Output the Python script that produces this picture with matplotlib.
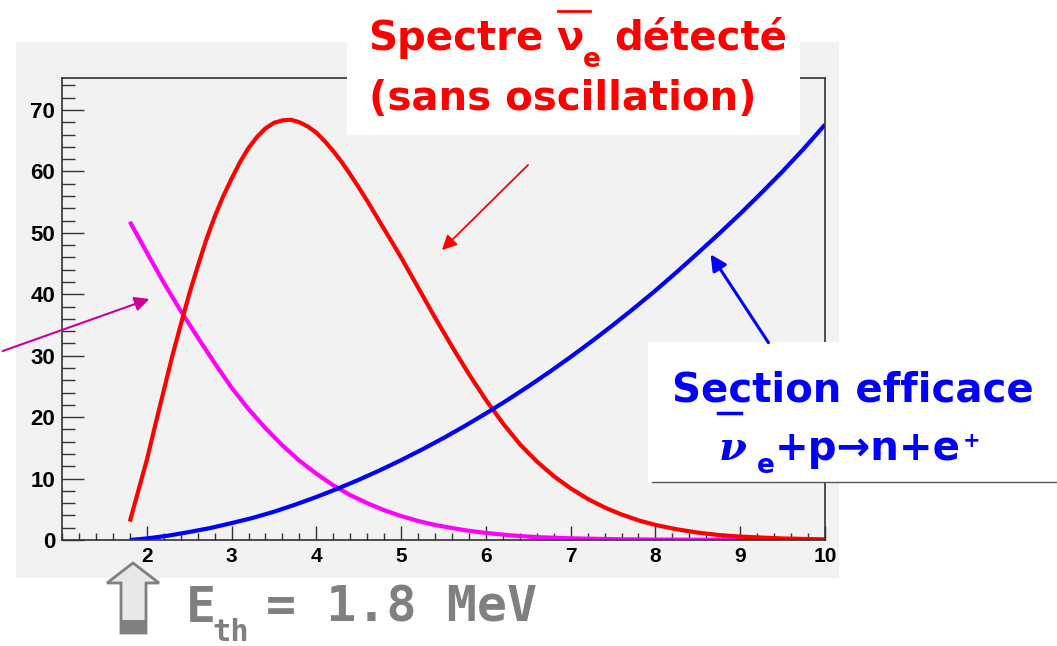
import matplotlib
matplotlib.use("Agg")

import matplotlib.pyplot as plt
from matplotlib.patches import Rectangle, Polygon
from matplotlib.ticker import MultipleLocator
import numpy as np

# spectre detecte (rouge)
E_spec = [1.8, 1.9, 2.0, 2.1, 2.2, 2.3, 2.4, 2.5, 2.6, 2.7, 2.8, 2.9, 3.0, 3.1, 3.2,
          3.3, 3.4, 3.5, 3.6, 3.7, 3.8, 3.9, 4.0, 4.1, 4.2, 4.3, 4.4, 4.5, 4.6, 4.7,
          4.8, 4.9, 5.0, 5.2, 5.4, 5.6, 5.8, 6.0, 6.2, 6.4, 6.6, 6.8, 7.0, 7.2, 7.4,
          7.6, 7.8, 8.0, 8.25, 8.5, 8.75, 9.0, 9.5, 10.0]
spec = [3.0, 8.0, 13.0, 18.7, 24.3, 29.9, 35.0, 40.0, 44.5, 48.8, 52.6, 55.9, 58.8, 61.5, 63.8,
        65.6, 67.0, 67.9, 68.3, 68.4, 68.0, 67.3, 66.3, 64.9, 63.3, 61.5, 59.5, 57.4, 55.2, 52.9,
        50.6, 48.3, 46.0, 41.1, 36.2, 31.5, 27.0, 22.8, 19.0, 15.6, 12.8, 10.4, 8.4, 6.7, 5.3,
        4.15, 3.2, 2.45, 1.75, 1.2, 0.8, 0.55, 0.25, 0.1]

# flux (magenta)
E_flux = [1.8, 2.0, 2.2, 2.4, 2.6, 2.8, 3.0, 3.2, 3.4, 3.6, 3.8, 4.0, 4.2, 4.4, 4.6,
          4.8, 5.0, 5.2, 5.4, 5.6, 5.8, 6.0, 6.3, 6.6, 7.0, 7.5, 8.0, 9.0, 10.0]
flux = [51.8, 46.8, 41.9, 37.3, 33.0, 28.8, 24.8, 21.3, 18.2, 15.4, 12.9, 10.8, 8.9, 7.3, 6.0,
        4.85, 3.9, 3.1, 2.45, 1.95, 1.5, 1.15, 0.75, 0.47, 0.27, 0.14, 0.07, 0.02, 0.01]

# section efficace (bleu)
E_xs = [1.8, 2.0, 2.25, 2.5, 2.75, 3.0, 3.25, 3.5, 3.75, 4.0, 4.25, 4.5, 4.75, 5.0, 5.25,
        5.5, 5.75, 6.0, 6.25, 6.5, 6.75, 7.0, 7.25, 7.5, 7.75, 8.0, 8.25, 8.5, 8.75,
        9.0, 9.25, 9.5, 9.75, 10.0]
xs = [0.0, 0.25, 0.7, 1.3, 1.95, 2.75, 3.6, 4.6, 5.75, 7.0, 8.35, 9.8, 11.35, 13.0, 14.75,
      16.6, 18.55, 20.6, 22.75, 25.0, 27.35, 29.8, 32.35, 35.0, 37.75, 40.6, 43.6, 46.7, 49.85,
      53.1, 56.5, 60.0, 63.7, 67.6]

W, H = 1057, 646
fig = plt.figure(figsize=(W / 100, H / 100), dpi=100)
fig.patch.set_facecolor("white")

# background panel (pixel coords)
bg = fig.add_axes([0, 0, 1, 1], zorder=0)
bg.set_xlim(0, W)
bg.set_ylim(H, 0)
bg.axis("off")
bg.add_patch(Rectangle((16, 42), 823, 536, facecolor="#f2f2f2", edgecolor="none"))

# main plot
x0, x1, y0, y1 = 62, 825, 78, 540
ax = fig.add_axes([x0 / W, (H - y1) / H, (x1 - x0) / W, (y1 - y0) / H], zorder=1)
ax.set_facecolor("none")
ax.plot(E_flux, flux, color="#ff00ff", lw=3, solid_capstyle="butt", solid_joinstyle="round")
ax.plot(E_spec, spec, color="#ff0000", lw=3, solid_capstyle="butt", solid_joinstyle="round")
ax.plot(E_xs, xs, color="#0000ff", lw=3, solid_capstyle="butt", solid_joinstyle="round")
ax.set_xlim(1, 10)
ax.set_ylim(0, 75.2)
ax.set_xticks(np.arange(2, 11, 1))
ax.xaxis.set_minor_locator(MultipleLocator(0.2))
ax.set_yticks(np.arange(0, 71, 10))
ax.yaxis.set_minor_locator(MultipleLocator(2))
for s in ax.spines.values():
    s.set_color("#333333")
    s.set_linewidth(1.2)
ax.tick_params(axis="both", which="both", direction="in", color="#333333", width=1.0,
               top=False, right=False)
ax.tick_params(axis="x", which="major", length=10, pad=5)
ax.tick_params(axis="x", which="minor", length=5)
ax.tick_params(axis="y", which="major", length=16, pad=5)
ax.tick_params(axis="y", which="minor", length=9)
for lab in ax.get_xticklabels():
    lab.set_fontsize(15)
for lab in ax.get_yticklabels():
    lab.set_fontsize(16)
for lab in ax.get_xticklabels() + ax.get_yticklabels():
    lab.set_fontfamily("Liberation Sans")
    lab.set_fontweight("bold")

# overlay for labels
ov = fig.add_axes([0, 0, 1, 1], zorder=2)
ov.set_xlim(0, W)
ov.set_ylim(H, 0)
ov.axis("off")
ov.patch.set_alpha(0)

big = dict(family="DejaVu Sans", weight="bold", fontsize=29, va="baseline")
sub = dict(family="DejaVu Sans", weight="bold", fontsize=19, va="baseline")

# red label
ov.add_patch(Rectangle((347, 0), 453, 135, facecolor="white", edgecolor="none"))
ov.text(368, 50, "Spectre", color="#ff0000", **big)
ov.text(556, 50, "\u03bd", color="#ff0000", **big)
ov.plot([558, 590], [11, 11], color="#ff0000", lw=2)
ov.text(583, 67, "e", color="#ff0000", **sub)
ov.text(614, 50, "détecté", color="#ff0000", **big)
ov.text(369, 110, "(sans oscillation)", color="#ff0000", **big)
ov.annotate("", xy=(440, 252), xytext=(530, 163),
            arrowprops=dict(arrowstyle="-|>", color="#ff0000", lw=1.3, mutation_scale=22))

# magenta arrow
ov.annotate("", xy=(152, 298), xytext=(0, 352),
            arrowprops=dict(arrowstyle="-|>", color="#cc0099", lw=1.5, mutation_scale=22))

# blue label
ov.add_patch(Rectangle((648, 342), 409, 140, facecolor="white", edgecolor="none"))
ov.plot([652, 1057], [482, 482], color="#555555", lw=1)
ov.text(853, 402, "Section efficace", color="#0000ff", ha="center", **big)
ov.plot([718, 741], [413, 413], color="#0000ff", lw=2.5)
ov.text(719, 460, "\u03bd", color="#0000ff", family="DejaVu Serif", style="italic",
        weight="bold", fontsize=29, va="baseline")
ov.text(757, 473, "e", color="#0000ff", **sub)
ov.text(775, 460, "+p\u2192n+e", color="#0000ff", **big)
ov.text(963, 447, "+", color="#0000ff", family="DejaVu Sans", weight="bold",
        fontsize=15, va="baseline")
ov.annotate("", xy=(709, 252), xytext=(770, 345),
            arrowprops=dict(arrowstyle="-|>", color="#0000ff", lw=2.2, mutation_scale=24))

# threshold arrow + text
ov.add_patch(Polygon([(133, 563), (107, 583), (121, 583), (121, 633), (146, 633), (146, 583), (159, 583)],
                     closed=True, facecolor="#e8e8e8", edgecolor="#808080", lw=2))
ov.add_patch(Rectangle((121, 620), 25, 13, facecolor="#808080", edgecolor="none"))
thr = dict(family="DejaVu Sans Mono", weight="bold", color="#808080", va="baseline")
ov.text(186, 622, "E", fontsize=36, **thr)
ov.text(212, 641, "th", fontsize=22, **thr)
ov.text(266, 622, "= 1.8 MeV", fontsize=36, **thr)

plt.savefig("out.png", dpi=100)
